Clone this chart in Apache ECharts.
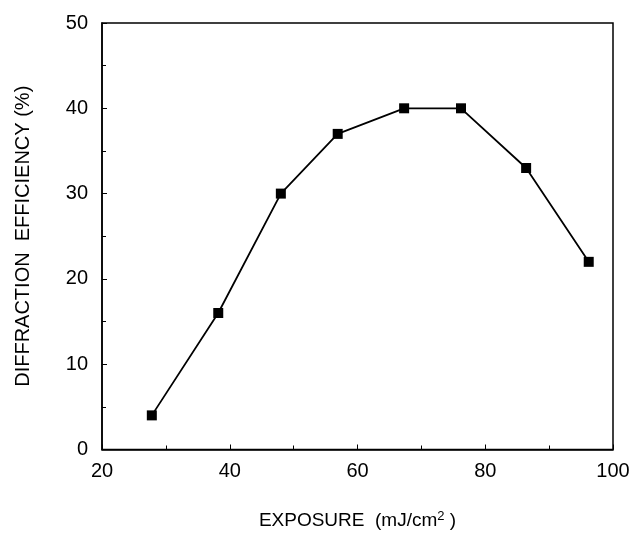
<!DOCTYPE html>
<html>
<head>
<meta charset="utf-8">
<script src="https://cdn.jsdelivr.net/npm/echarts@6/dist/echarts.min.js"></script>
<style>html,body{margin:0;padding:0;background:#fff}#c{width:634px;height:535px}</style>
</head>
<body>
<div id="c"></div>
<script>
const exposure = [27.8, 38.2, 48, 56.9, 67.3, 76.2, 86.4, 96.2];
const efficiency = [4, 16, 30, 37, 40, 40, 33, 22];
const xTitle = 'EXPOSURE  (mJ/cm{sup|2} )';
const yTitle = 'DIFFRACTION  EFFICIENCY (%)';

const chart = echarts.init(document.getElementById('c'));
const font = 'Liberation Sans, Arial, sans-serif';
chart.setOption({
  animation: false,
  backgroundColor: '#fff',
  grid: { left: 102, right: 21, top: 23, bottom: 81, show: true, borderColor: '#000', borderWidth: 1.5 },
  xAxis: {
    type: 'value', min: 20, max: 100, interval: 20,
    name: xTitle, nameLocation: 'middle', nameGap: 60,
    nameTextStyle: { fontFamily: font, fontSize: 19, color: '#000',
      rich: { sup: { fontSize: 13, verticalAlign: 'top', padding: [0,0,9,0], fontFamily: font, color: '#000' } } },
    axisLine: { lineStyle: { color: '#000', width: 1.5 } },
    axisTick: { inside: true, length: 5, lineStyle: { color: '#000' } },
    minorTick: { show: true, splitNumber: 2, length: 4, lineStyle: { color: '#000' } },
    splitLine: { show: false },
    axisLabel: { fontFamily: font, fontSize: 20, color: '#000', margin: 12 }
  },
  yAxis: {
    type: 'value', min: 0, max: 50, interval: 10,
    name: yTitle, nameLocation: 'middle', nameGap: 69,
    nameTextStyle: { fontFamily: font, fontSize: 20, color: '#000' },
    axisLine: { show: true, lineStyle: { color: '#000', width: 1.5 } },
    axisTick: { show: true, inside: true, length: 5, lineStyle: { color: '#000' } },
    minorTick: { show: true, splitNumber: 2, length: 4, lineStyle: { color: '#000' } },
    splitLine: { show: false },
    axisLabel: { fontFamily: font, fontSize: 20, color: '#000', margin: 14 }
  },
  series: [{
    type: 'line',
    data: exposure.map((x, i) => [x, efficiency[i]]),
    symbol: 'rect', symbolSize: 10,
    lineStyle: { color: '#000', width: 1.8 },
    itemStyle: { color: '#000' }
  }]
});
</script>
</body>
</html>
